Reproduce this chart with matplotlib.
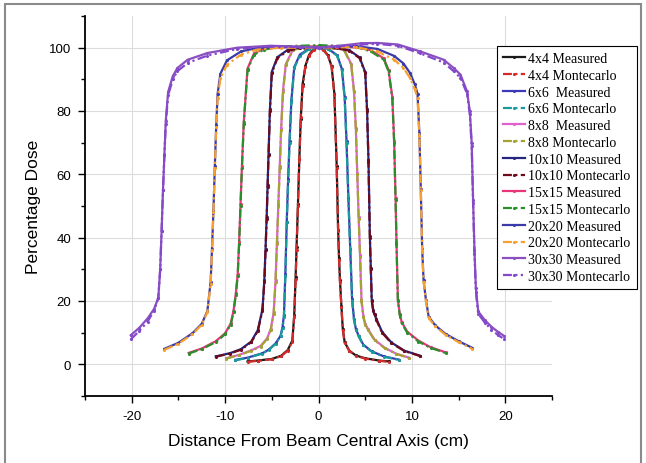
import matplotlib
matplotlib.use("Agg")
import matplotlib.pyplot as plt
from matplotlib.ticker import MultipleLocator
from matplotlib.patches import Rectangle

plt.rcParams['font.family'] = ['Liberation Sans', 'DejaVu Sans']
plt.rcParams['axes.unicode_minus'] = False

# 4x4 field
x4 = [-7.6, -6.5, -5.0, -4.0, -3.3, -2.8, -2.6, -2.45, -2.35, -2.2, -2.05, -1.9, -1.7, -1.4, -1.0, -0.5, 0.0,
      0.5, 1.0, 1.4, 1.7, 1.95, 2.1, 2.2, 2.3, 2.45, 2.6, 2.8, 3.3, 4.0, 5.0, 6.5, 7.6]
y4_meas = [0.9, 1.2, 1.7, 2.7, 4.5, 7.5, 15.5, 27.5, 37, 50.5, 65, 77.5, 88.5, 94.3, 97.8, 99.6, 100.2,
           99.6, 97.6, 94.2, 85.5, 62.5, 42.5, 33.5, 26.5, 18.5, 11.2, 7.0, 4.3, 2.8, 1.9, 1.2, 0.9]
y4_mc = [0.8, 1.1, 1.6, 2.6, 4.3, 7.2, 15, 27, 36, 50, 65, 78, 88, 94, 97.5, 99.3, 100,
         99.3, 97.5, 94, 85, 62, 42, 33, 26, 18, 11, 6.8, 4.2, 2.7, 1.8, 1.1, 0.8]

# 6x6 field
x6 = [-8.9, -7.6, -6.0, -5.3, -4.6, -4.06, -3.85, -3.7, -3.55, -3.4, -3.25, -3.1, -2.9, -2.6, -2.0, -1.0, 0.0,
      1.0, 2.0, 2.5, 2.8, 3.0, 3.2, 3.4, 3.6, 3.8, 4.0, 4.3, 4.8, 5.7, 7.0, 8.6]
y6_meas = [1.4, 2.1, 3.5, 4.7, 6.6, 9.0, 11.8, 15.5, 28.5, 45, 58.5, 70.5, 83.5, 93.8, 97.8, 99.7, 100.3,
           99.7, 97.6, 93.3, 84.5, 70.5, 52.5, 36.5, 20.5, 14.3, 11.2, 9.0, 6.2, 4.1, 2.5, 1.5]
y6_mc = [1.3, 2.0, 3.4, 4.6, 6.5, 8.8, 11.5, 15, 28, 45, 58, 70, 83, 93.5, 97.5, 99.5, 100,
         99.5, 97.5, 93, 84, 70, 52, 36, 20, 14, 11, 8.8, 6.0, 4.0, 2.4, 1.4]

# 8x8 field
x8 = [-9.9, -8.5, -7.2, -6.2, -5.5, -5.1, -4.8, -4.6, -4.45, -4.3, -4.15, -4.0, -3.8, -3.5, -2.7, -1.5, 0.0,
      1.5, 2.7, 3.5, 3.8, 4.0, 4.15, 4.3, 4.45, 4.6, 4.8, 5.0, 5.3, 6.0, 7.1, 8.3, 9.7]
y8_meas = [1.9, 3.0, 4.4, 5.8, 8.2, 11.3, 16.4, 26.5, 38.5, 50.5, 62.5, 74.5, 86.5, 94.8, 99.6, 100.1, 100.3,
           100.1, 99.6, 94.9, 86.4, 74.5, 60.5, 46.5, 34.5, 20.4, 15.3, 12.8, 11.1, 7.8, 5.2, 3.4, 2.1]
y8_mc = [1.8, 2.9, 4.3, 5.6, 8.0, 11, 16, 26, 38, 50, 62, 74, 86, 94.6, 99.4, 99.8, 100,
         99.8, 99.4, 94.6, 86, 74, 60, 46, 34, 20, 15, 12.5, 10.9, 7.6, 5.1, 3.3, 2.0]

# 10x10 field
x10 = [-11.0, -9.5, -8.3, -7.2, -6.5, -6.0, -5.8, -5.67, -5.55, -5.45, -5.35, -5.2, -5.0, -4.4, -3.3, -2.0, 0.0,
       2.0, 3.3, 4.4, 5.0, 5.2, 5.35, 5.5, 5.6, 5.7, 5.85, 6.0, 6.2, 6.8, 7.8, 9.2, 10.9]
y10_meas = [2.5, 3.5, 4.8, 7.2, 10.8, 17.4, 26.5, 36.5, 46.5, 56.5, 66.5, 80.5, 92.4, 97.0, 99.3, 100.1, 100.3,
            100.1, 99.2, 96.9, 92.3, 80.5, 64.5, 40.5, 30.5, 20.4, 17.3, 15.8, 14.3, 10.3, 6.9, 4.3, 2.7]
y10_mc = [2.4, 3.4, 4.6, 7.0, 10.5, 17, 26, 36, 46, 56, 66, 80, 92, 96.7, 99.0, 99.8, 100,
          99.8, 99.0, 96.7, 92, 80, 64, 40, 30, 20, 17, 15.5, 14, 10, 6.7, 4.2, 2.6]

# 15x15 field
x15 = [-13.9, -12.5, -11.0, -10.0, -9.4, -9.1, -8.85, -8.65, -8.5, -8.35, -8.2, -8.0, -7.6, -6.9, -5.8, -4.0, -2.0, 0.0,
       2.0, 4.0, 5.6, 7.0, 7.5, 7.9, 8.1, 8.25, 8.35, 8.5, 8.7, 8.9, 9.5, 10.7, 12.0, 13.6]
y15_meas = [3.6, 5.0, 7.3, 9.8, 12.9, 16.9, 22.4, 28.5, 38.5, 50.5, 62.5, 76.5, 93.4, 98.2, 99.8, 100.1, 100.3, 100.4,
            100.3, 100.1, 99.2, 96.6, 92.9, 84.5, 70.5, 52.5, 38.5, 20.4, 15.9, 13.4, 10.3, 7.5, 5.4, 3.8]
y15_mc = [3.4, 4.8, 7.0, 9.5, 12.5, 16.5, 22, 28, 38, 50, 62, 76, 93, 97.8, 99.4, 100.4, 100.6, 100.8,
          100.6, 100.3, 98.8, 96.2, 92.5, 84, 70, 52, 38, 20, 15.5, 13, 10, 7.2, 5.2, 3.6]

# 20x20 field
x20 = [-16.5, -15.0, -13.5, -12.5, -11.9, -11.55, -11.4, -11.25, -11.1, -10.95, -10.8, -10.5, -9.8, -8.3, -6.6, -4.0, 0.0,
       4.0, 6.3, 8.1, 9.1, 9.8, 10.3, 10.6, 10.8, 10.95, 11.1, 11.25, 11.5, 11.8, 12.5, 13.6, 15.0, 16.4]
y20_meas = [4.9, 6.8, 9.8, 12.8, 16.8, 26, 36.5, 48.5, 62.5, 75.5, 85.5, 91.8, 96.0, 98.8, 99.9, 100.2, 100,
            100.5, 99.6, 97.4, 95.0, 92.0, 88.5, 85.5, 73, 55.5, 36.5, 26.5, 20.4, 15, 12.3, 9.6, 7.3, 5.3]
y20_mc = [4.6, 6.5, 9.5, 12.5, 16.5, 25.5, 36, 48, 62, 75, 84, 90.4, 94.6, 97.8, 99.4, 100, 100,
          100.2, 98.8, 96.2, 93.6, 90.4, 87, 84, 72, 55, 36, 26, 20, 14.6, 12, 9.3, 7.0, 5.0]

# 30x30 field
x30 = [-20.1, -19.2, -18.3, -17.6, -17.15, -16.95, -16.8, -16.65, -16.5, -16.35, -16.1, -15.6, -15.1, -14.0, -11.9,
       -8.7, -5.1, -2.0, 0.0, 2.0, 4.6, 6.3, 8.5, 10.9, 13.4, 14.5, 15.2, 15.9, 16.2, 16.4, 16.55, 16.7, 16.85,
       17.1, 17.8, 18.5, 19.2, 19.9]
y30_meas = [9.2, 11.5, 14.5, 17.5, 21, 30, 42, 55, 66, 77, 86, 91, 93.6, 96.2, 98.3, 100.0, 100.6, 100.3, 100,
            100.5, 101.4, 101.5, 101.0, 98.8, 96.2, 93.5, 91.5, 86.2, 80, 70, 52, 36, 24, 16.7, 14, 11.9, 10.3, 8.9]
y30_mc = [7.9, 10.5, 13.5, 17, 21, 30, 42, 55, 66, 76, 85, 90, 92.6, 95.2, 97.5, 99.6, 100.4, 100.2, 100,
          100.4, 101.0, 101.2, 100.6, 98.2, 95.3, 92.5, 90.5, 85.5, 79, 69, 51, 35, 23, 16.0, 13.2, 11.0, 9.3, 7.9]

field_names = ['4x4', '6x6', '8x8', '10x10', '15x15', '20x20', '30x30']
meas_labels = ['4x4 Measured', '6x6  Measured', '8x8  Measured', '10x10 Measured',
               '15x15 Measured', '20x20 Measured', '30x30 Measured']
mc_labels = [f + ' Montecarlo' for f in field_names]
meas_colors = ['#1a1a1a', '#3a3ab8', '#e060d0', '#262680', '#e8357a', '#3a3aa8', '#8a4fc0']
mc_colors = ['#d42a2a', '#1b9a9a', '#a3a332', '#6e0a1a', '#2a8f2a', '#f5a030', '#8448cc']

xs = [x4, x6, x8, x10, x15, x20, x30]
ys_meas = [y4_meas, y6_meas, y8_meas, y10_meas, y15_meas, y20_meas, y30_meas]
ys_mc = [y4_mc, y6_mc, y8_mc, y10_mc, y15_mc, y20_mc, y30_mc]

fig = plt.figure(figsize=(6.46, 4.64), dpi=100)
ax = fig.add_axes([85/646, 1 - 397/464, (552 - 85)/646, (397 - 17)/464])

for i in range(len(field_names)):
    ax.plot(xs[i], ys_meas[i], '-', color=meas_colors[i], lw=1.6, marker='.', ms=2.5,
            label=meas_labels[i])
    ls = (0, (4, 1.5, 1, 1.5, 1, 1.5)) if i == 6 else (0, (4, 1.5, 1, 1.5))
    ax.plot(xs[i], ys_mc[i], linestyle=ls, color=mc_colors[i], lw=1.6, marker='.', ms=2.5,
            label=mc_labels[i])

ax.set_xlim(-25, 25)
ax.set_ylim(-10, 110)
ax.xaxis.set_major_locator(MultipleLocator(10))
ax.xaxis.set_minor_locator(MultipleLocator(5))
ax.yaxis.set_major_locator(MultipleLocator(20))
ax.yaxis.set_minor_locator(MultipleLocator(10))
ax.grid(True, which='major', color='#dcdcdc', lw=0.8)
ax.set_axisbelow(True)
ax.spines['top'].set_visible(False)
ax.spines['right'].set_visible(False)
for s in ['left', 'bottom']:
    ax.spines[s].set_linewidth(1.3)
ax.tick_params(which='major', direction='out', length=5, width=1.0, labelsize=9.5, pad=5)
ax.tick_params(which='minor', direction='out', length=3, width=1.0)

ax.set_xlabel('Distance From Beam Central Axis (cm)', fontsize=12.5, labelpad=8)
ax.set_ylabel('Percentage Dose', fontsize=12.5, labelpad=6)

leg = ax.legend(loc='upper left', bbox_to_anchor=(497/646, 1 - 47/464), bbox_transform=fig.transFigure,
                borderaxespad=0, numpoints=1, fancybox=False, framealpha=1, edgecolor='black',
                prop={'family': 'Liberation Serif', 'size': 10}, labelspacing=0.27,
                handlelength=1.6, handletextpad=0.2, borderpad=0.45)
leg.get_frame().set_linewidth(0.8)

# grey border round the whole picture
fig.patches.append(Rectangle((5/646, -0.05), (641 - 5)/646, 1.05 - 5/464, transform=fig.transFigure,
                             fill=False, edgecolor='#8a8a8a', lw=1.5, clip_on=False))

fig.savefig('out.png', dpi=100)
